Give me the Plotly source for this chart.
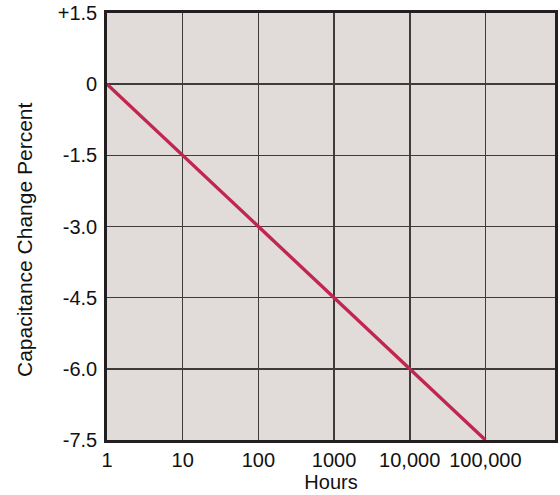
import plotly.graph_objects as go

hours = [1, 10, 100, 1000, 10000, 100000]
change_pct = [0, -1.5, -3.0, -4.5, -6.0, -7.5]

x_tickvals = [1, 10, 100, 1000, 10000, 100000]
x_ticktext = ["1", "10", "100", "1000", "10,000", "100,000"]
y_tickvals = [1.5, 0, -1.5, -3.0, -4.5, -6.0, -7.5]
y_ticktext = ["+1.5", "0", "-1.5", "-3.0", "-4.5", "-6.0", "-7.5"]

fig = go.Figure()
fig.add_trace(go.Scatter(
    x=hours, y=change_pct, mode="lines",
    line=dict(color="#c1264f", width=3.4),
    hoverinfo="skip", showlegend=False,
))

font_family = "Liberation Sans, Arial, sans-serif"

fig.update_layout(
    width=560, height=495,
    margin=dict(l=107, r=5, t=13, b=55),
    paper_bgcolor="white",
    plot_bgcolor="#e1dcda",
    font=dict(family=font_family, size=20, color="#111111"),
    xaxis=dict(
        type="log", range=[0, 5.92],
        tickvals=x_tickvals, ticktext=x_ticktext,
        showgrid=True, gridcolor="#3d3b3b", gridwidth=1.6,
        showline=True, linecolor="#231f20", linewidth=2.8, mirror=True,
        ticks="", zeroline=False, automargin=False,
        title=dict(text="Hours", font=dict(size=20), standoff=3),
        tickfont=dict(size=20),
    ),
    yaxis=dict(
        range=[-7.5, 1.5],
        tickvals=y_tickvals, ticktext=y_ticktext,
        showgrid=True, gridcolor="#3d3b3b", gridwidth=1.6,
        showline=True, linecolor="#231f20", linewidth=2.8, mirror=True,
        ticks="", zeroline=False, automargin=False,
        ticklabelstandoff=3, ticklabeloverflow="allow",
        tickfont=dict(size=20),
    ),
    annotations=[dict(
        text="Capacitance Change Percent", textangle=-90,
        xref="paper", yref="paper",
        x=-82 / 448, y=(440 - 240) / 427,
        xanchor="center", yanchor="middle",
        showarrow=False, font=dict(size=21, family=font_family, color="#111111"),
    )],
)

fig.write_html(
    "out.html",
    config={"displayModeBar": False, "staticPlot": True},
    post_script="document.body.style.margin='0';document.body.style.overflow='hidden';",
)
